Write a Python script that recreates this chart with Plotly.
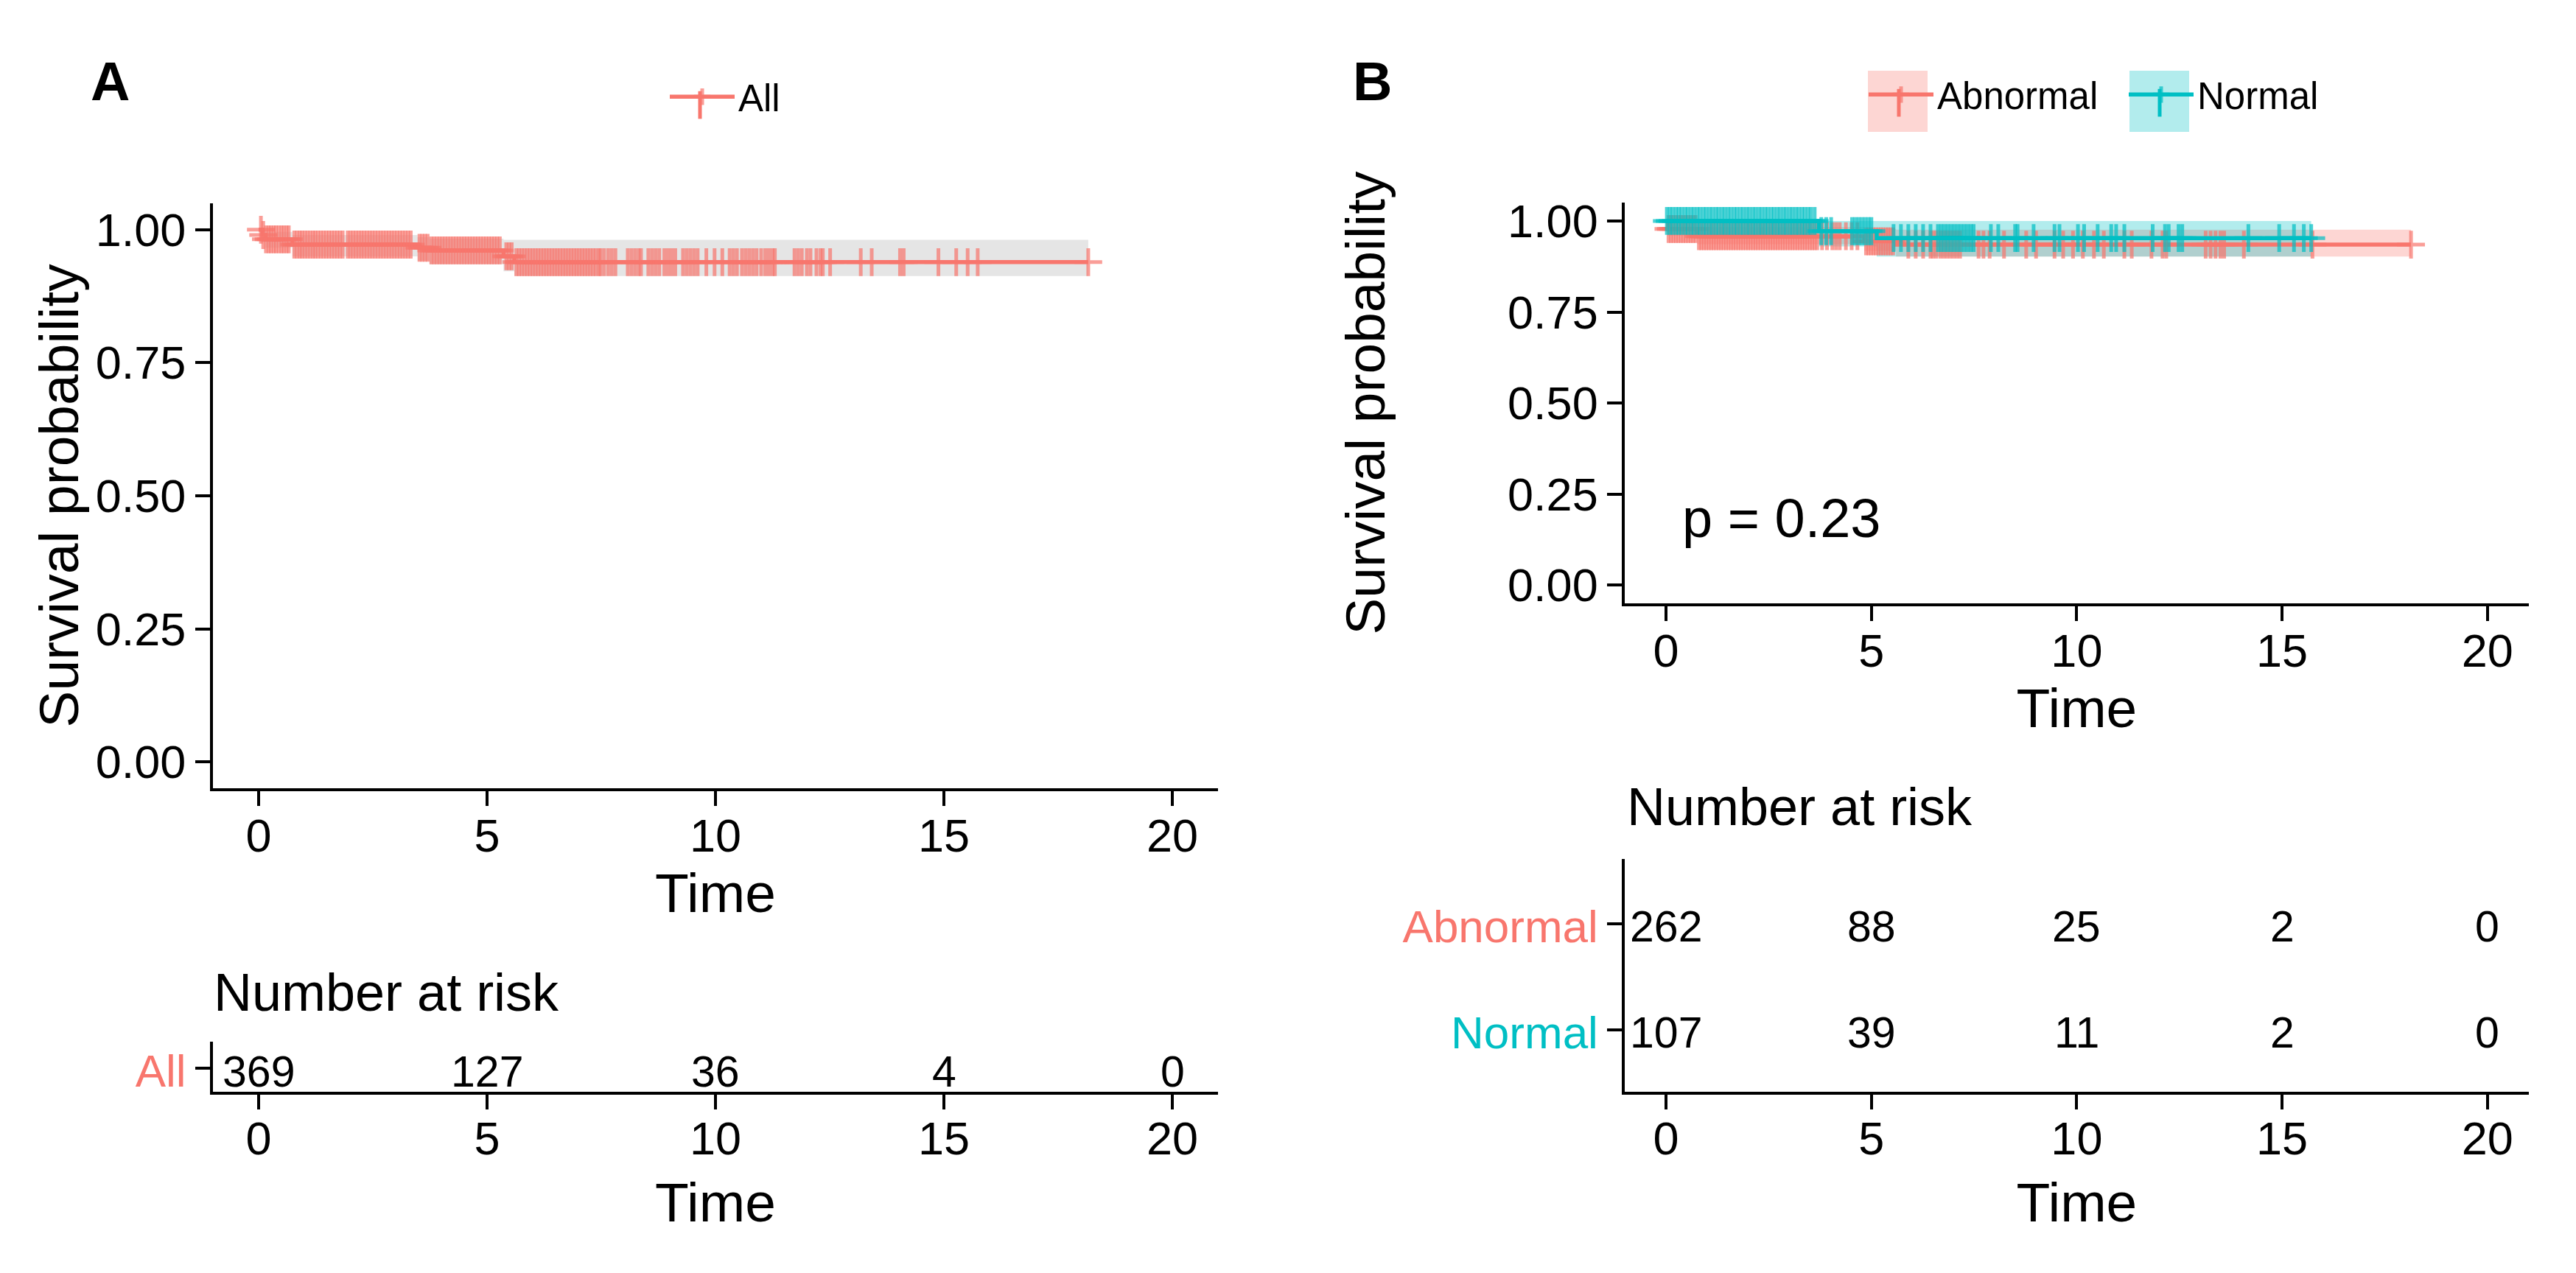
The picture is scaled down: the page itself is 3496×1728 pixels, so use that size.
import numpy as np
import plotly.graph_objects as go

RED = "#F8766D"
TEAL = "#00BFC4"
FONT = "Liberation Sans, Arial, sans-serif"

# ---------------- data: panel A (all patients) ----------------
a_time = [0, 0.08, 0.15, 0.74, 3.48, 3.74, 5.36, 5.6, 18.16]
a_surv = [1.0, 0.99, 0.982, 0.972, 0.966, 0.961, 0.95, 0.939, 0.939]
a_lower = [1.0, 0.977, 0.966, 0.95, 0.942, 0.935, 0.922, 0.913, 0.913]
a_upper = [1.0, 1.0, 0.996, 0.99, 0.986, 0.983, 0.981, 0.981, 0.981]
a_censor = [0.05, 0.1, 0.16, 0.22, 0.27, 0.33, 0.38, 0.44, 0.5, 0.55, 0.61, 0.66, 0.78, 0.84,
            0.9, 0.95, 1.01, 1.07, 1.13, 1.19, 1.24, 1.3, 1.36, 1.42, 1.48, 1.54, 1.6, 1.66,
            1.72, 1.78, 1.84, 1.95, 2.01, 2.07, 2.13, 2.19, 2.25, 2.31, 2.37, 2.43, 2.49, 2.55,
            2.61, 2.67, 2.73, 2.79, 2.85, 2.91, 2.97, 3.03, 3.09, 3.15, 3.21, 3.27, 3.33, 3.52,
            3.58, 3.64, 3.7, 3.78, 3.84, 3.9, 3.96, 4.02, 4.08, 4.14, 4.2, 4.26, 4.32, 4.38,
            4.44, 4.5, 4.56, 4.62, 4.68, 4.74, 4.8, 4.86, 4.92, 4.98, 5.04, 5.1, 5.16, 5.22,
            5.28, 5.42, 5.48, 5.54, 5.64, 5.7, 5.76, 5.82, 5.88, 5.94, 6.0, 6.06, 6.12, 6.18,
            6.24, 6.3, 6.36, 6.42, 6.48, 6.54, 6.6, 6.66, 6.72, 6.78, 6.84, 6.9, 6.96, 7.02,
            7.08, 7.14, 7.2, 7.26, 7.32, 7.38, 7.45, 7.48, 7.56, 7.65, 7.73, 7.81, 8.08, 8.16,
            8.24, 8.32, 8.37, 8.53, 8.61, 8.69, 8.77, 8.88, 8.96, 9.04, 9.12, 9.29, 9.37, 9.45,
            9.53, 9.61, 9.8, 9.98, 10.15, 10.31, 10.39, 10.47, 10.58, 10.66, 10.74, 10.82,
            10.9, 11.0, 11.09, 11.17, 11.25, 11.3, 11.73, 11.81, 11.89, 12.0, 12.08, 12.21,
            12.3, 12.35, 12.51, 13.18, 13.42, 14.04, 14.12, 14.88, 15.27, 15.52, 15.74, 18.16]

# ---------------- data: panel B (Abnormal vs Normal) ----------------
abn_time = [0, 0.05, 0.76, 4.83, 5.6, 18.14]
abn_surv = [1.0, 0.978, 0.958, 0.944, 0.935, 0.935]
abn_lower = [1.0, 0.96, 0.936, 0.918, 0.902, 0.902]
abn_upper = [1.0, 0.994, 0.983, 0.978, 0.976, 0.976]
abn_censor = [0.06, 0.12, 0.18, 0.24, 0.3, 0.36, 0.42, 0.48, 0.54, 0.6, 0.66, 0.72, 0.8, 0.86,
              0.92, 0.98, 1.04, 1.1, 1.16, 1.22, 1.28, 1.34, 1.4, 1.46, 1.52, 1.58, 1.64,
              1.7, 1.76, 1.82, 1.88, 1.94, 2.0, 2.06, 2.12, 2.18, 2.24, 2.3, 2.36, 2.42,
              2.48, 2.54, 2.6, 2.66, 2.72, 2.78, 2.84, 2.9, 2.96, 3.02, 3.08, 3.14, 3.2,
              3.26, 3.32, 3.38, 3.44, 3.5, 3.56, 3.62, 3.68, 3.8, 3.92, 4.05, 4.14, 4.23, 4.38,
              4.52, 4.66, 4.87, 4.93, 4.99, 5.05, 5.11, 5.17, 5.23, 5.29, 5.35, 5.41, 5.47,
              5.53, 5.9, 6.08, 6.26, 6.44, 6.5, 6.58, 6.68, 6.76, 6.84, 6.92, 7.0, 7.08, 7.16,
              7.61, 7.73, 7.88, 8.23, 8.77, 9.01, 9.46, 9.67, 9.91, 10.15, 10.42, 10.66, 11.16,
              11.34, 11.82, 12.09, 12.18, 13.14, 13.26, 13.38, 13.5, 13.59, 14.07, 15.74, 18.14]
nor_time = [0, 3.72, 5.13, 15.71]
nor_surv = [1.0, 0.972, 0.953, 0.953]
nor_lower = [1.0, 0.93, 0.902, 0.902]
nor_upper = [1.0, 1.0, 1.0, 1.0]
nor_censor = [0.02, 0.09, 0.16, 0.24, 0.31, 0.38, 0.46, 0.53, 0.61, 0.68, 0.76, 0.83, 0.91, 0.98,
              1.06, 1.13, 1.21, 1.28, 1.36, 1.43, 1.51, 1.58, 1.66, 1.73, 1.81, 1.88, 1.96,
              2.03, 2.11, 2.18, 2.26, 2.33, 2.41, 2.48, 2.56, 2.63, 2.71, 2.78, 2.86, 2.93, 3.01,
              3.08, 3.16, 3.23, 3.31, 3.38, 3.46, 3.53, 3.62, 3.78, 3.9, 4.02, 4.53, 4.61, 4.69,
              4.77, 4.85, 4.93, 5.0, 5.54, 5.72, 5.9, 6.08, 6.26, 6.44, 6.62, 6.7, 6.78, 6.86,
              6.94, 7.02, 7.1, 7.18, 7.26, 7.34, 7.42, 7.49, 7.91, 8.09, 8.5, 8.56, 8.95, 9.46,
              9.58, 10.03, 10.18, 10.51, 10.84, 10.96, 11.16, 11.85, 12.15, 12.24, 12.48, 12.57,
              14.18, 14.93, 15.29, 15.53, 15.71]

risk_times = [0, 5, 10, 15, 20]
risk_all = [369, 127, 36, 4, 0]
risk_abn = [262, 88, 25, 2, 0]
risk_nor = [107, 39, 11, 2, 0]
p_label = "p = 0.23"

x_ticks = [0, 5, 10, 15, 20]
y_ticks = [0, 0.25, 0.5, 0.75, 1.0]
y_ticktext = ["0.00", "0.25", "0.50", "0.75", "1.00"]

# ---------------- layout geometry (pixels of the 3496 x 1728 figure) ----------------
W, H = 3496, 1728


def fx(p):
    return p / W


def fy(p):
    return 1 - p / H


def km_points(times, surv, censor):
    """merge event times and censor times into one step path (censors flagged)."""
    t = np.array(times, dtype=float)
    s = np.array(surv, dtype=float)
    c = np.array(censor, dtype=float)
    cs = s[np.searchsorted(t, c, side="right") - 1]
    allx = np.concatenate([t, c])
    ally = np.concatenate([s, cs])
    flag = np.concatenate([np.zeros(len(t)), np.ones(len(c))])
    order = np.argsort(allx, kind="stable")
    return allx[order], ally[order], flag[order]


fig = go.Figure()


def add_band(times, lo, hi, color, xa, ya):
    fig.add_trace(go.Scatter(x=times, y=lo, mode="lines", line=dict(width=0, shape="hv"),
                             hoverinfo="skip", showlegend=False, xaxis=xa, yaxis=ya))
    fig.add_trace(go.Scatter(x=times, y=hi, mode="lines", line=dict(width=0, shape="hv"),
                             fill="tonexty", fillcolor=color, hoverinfo="skip",
                             showlegend=False, xaxis=xa, yaxis=ya))


def add_curve(times, surv, censor, color, name, xa, ya, legend):
    x, y, flag = km_points(times, surv, censor)
    fig.add_trace(go.Scatter(
        x=x, y=y, mode="lines+markers", name=name, legend=legend,
        line=dict(color=color, width=5.5, shape="hv"),
        marker=dict(symbol="cross-thin", size=np.where(flag > 0, 27, 0),
                    color=color, line=dict(color=color, width=5)),
        xaxis=xa, yaxis=ya))


# Panel A
add_band(a_time, a_lower, a_upper, "rgba(0,0,0,0.10)", "x", "y")
add_curve(a_time, a_surv, a_censor, RED, "All", "x", "y", "legend")
# Panel B
add_band(abn_time, abn_lower, abn_upper, "rgba(248,118,109,0.30)", "x2", "y2")
add_band(nor_time, nor_lower, nor_upper, "rgba(0,191,196,0.30)", "x2", "y2")
add_curve(abn_time, abn_surv, abn_censor, RED, "Abnormal", "x2", "y2", "legend2")
add_curve(nor_time, nor_surv, nor_censor, TEAL, "Normal", "x2", "y2", "legend2")

TICKFONT = dict(family=FONT, size=63, color="black")
axis_common = dict(showline=True, linecolor="black", linewidth=4, ticks="outside",
                   ticklen=20, tickwidth=4, tickcolor="black", showgrid=False,
                   zeroline=False)

xA = [fx(281), fx(1645)]
xB = [fx(2197.3), fx(3423.5)]

xaxis_style = dict(range=[-1, 21], tickvals=x_ticks, tickfont=TICKFONT,
                   ticklabelstandoff=-14, **axis_common)
yaxis_style = dict(range=[-0.05, 1.05], tickvals=y_ticks, ticktext=y_ticktext,
                   tickfont=TICKFONT, **axis_common)


def time_title(standoff):
    return dict(text="Time", font=dict(family=FONT, size=75, color="black"),
                standoff=standoff)


def surv_title(standoff):
    return dict(text="Survival probability", font=dict(family=FONT, size=75, color="black"),
                standoff=standoff)


LEG_A_X, LEG_A_Y = 896, 115
LEG_B_X, LEG_B_Y = 2523, 112

fig.update_layout(
    width=W, height=H,
    margin=dict(l=0, r=0, t=0, b=0),
    paper_bgcolor="white", plot_bgcolor="white",
    font=dict(family=FONT, color="black"),
    xaxis=dict(domain=xA, anchor="y", title=time_title(19), **xaxis_style),
    yaxis=dict(domain=[fy(1064.5), fy(260.7)], anchor="x", title=surv_title(0), **yaxis_style),
    xaxis2=dict(domain=xB, anchor="y2", title=time_title(19), **xaxis_style),
    yaxis2=dict(domain=[fy(810.4), fy(260.2)], anchor="x2", title=surv_title(143),
                **yaxis_style),
    xaxis3=dict(domain=xA, anchor="y3", title=time_title(27), **xaxis_style),
    yaxis3=dict(domain=[fy(1481), fy(1412)], anchor="x3", range=[0.48, 1.6], tickvals=[1],
                ticktext=["<span style='color:%s'>All</span>" % RED], ticklabelshift=3,
                tickfont=dict(family=FONT, size=62, color=RED), **axis_common),
    xaxis4=dict(domain=xB, anchor="y4", title=time_title(27), **xaxis_style),
    yaxis4=dict(domain=[fy(1481), fy(1161)], anchor="x4", range=[0.414, 2.62], tickvals=[1, 2],
                ticktext=["<span style='color:%s'>Normal</span>" % TEAL,
                          "<span style='color:%s'>Abnormal</span>" % RED], ticklabelshift=3,
                tickfont=dict(family=FONT, size=62, color="black"), **axis_common),
    legend=dict(orientation="h", x=fx(LEG_A_X), y=fy(LEG_A_Y), xanchor="left",
                yanchor="middle", font=dict(family=FONT, size=51, color="black"),
                itemwidth=88, bgcolor="rgba(0,0,0,0)"),
    legend2=dict(orientation="h", x=fx(LEG_B_X), y=fy(LEG_B_Y), xanchor="left",
                 yanchor="middle", font=dict(family=FONT, size=51, color="black"),
                 itemwidth=88, entrywidth=250, bgcolor="rgba(0,0,0,0)"),
    showlegend=True,
)

# legend key decorations: band-coloured boxes (panel B) and full-size censor ticks
key_a = LEG_A_Y + 11
key_b = LEG_B_Y + 11
fig.add_shape(type="rect", xref="paper", yref="paper", x0=fx(2527), x1=fx(2608),
              y0=fy(key_b + 40), y1=fy(key_b - 44), fillcolor="rgba(248,118,109,0.30)",
              line_width=0, layer="below")
fig.add_shape(type="rect", xref="paper", yref="paper", x0=fx(2882), x1=fx(2963),
              y0=fy(key_b + 40), y1=fy(key_b - 44), fillcolor="rgba(0,191,196,0.30)",
              line_width=0, layer="below")
for kx, ky, col in [(LEG_A_X + 46, key_a, RED), (2569, key_b, RED), (2923, key_b, TEAL)]:
    fig.add_shape(type="line", xref="paper", yref="paper", x0=fx(kx), x1=fx(kx),
                  y0=fy(ky + 19), y1=fy(ky - 19), line=dict(color=col, width=5))

# risk table numbers
TABLEFONT = dict(family=FONT, size=59, color="black")
for t, n in zip(risk_times, risk_all):
    fig.add_annotation(x=t, y=1, xref="x3", yref="y3", text=str(n), showarrow=False,
                       xanchor="center", yanchor="middle", yshift=-5, font=TABLEFONT)
for t, n in zip(risk_times, risk_abn):
    fig.add_annotation(x=t, y=2, xref="x4", yref="y4", text=str(n), showarrow=False,
                       xanchor="center", yanchor="middle", yshift=-4, font=TABLEFONT)
for t, n in zip(risk_times, risk_nor):
    fig.add_annotation(x=t, y=1, xref="x4", yref="y4", text=str(n), showarrow=False,
                       xanchor="center", yanchor="middle", yshift=-4, font=TABLEFONT)

# Panel letters, risk-table titles and p-value
fig.add_annotation(x=fx(141), y=fy(94), xref="paper", yref="paper", text="<b>A</b>",
                   xanchor="center", yanchor="middle", showarrow=False,
                   font=dict(family=FONT, size=74, color="black"))
fig.add_annotation(x=fx(1854), y=fy(94), xref="paper", yref="paper", text="<b>B</b>",
                   xanchor="center", yanchor="middle", showarrow=False,
                   font=dict(family=FONT, size=74, color="black"))
fig.add_annotation(x=fx(280), y=fy(1345), xref="paper", yref="paper", text="Number at risk",
                   xanchor="left", yanchor="middle", showarrow=False,
                   font=dict(family=FONT, size=72, color="black"))
fig.add_annotation(x=fx(2198), y=fy(1090), xref="paper", yref="paper", text="Number at risk",
                   xanchor="left", yanchor="middle", showarrow=False,
                   font=dict(family=FONT, size=72, color="black"))
fig.add_annotation(x=0.36, y=0.184, xref="x2", yref="y2", text=p_label, xanchor="left",
                   yanchor="middle", showarrow=False,
                   font=dict(family=FONT, size=74, color="black"))

fig.write_html("out.html")
